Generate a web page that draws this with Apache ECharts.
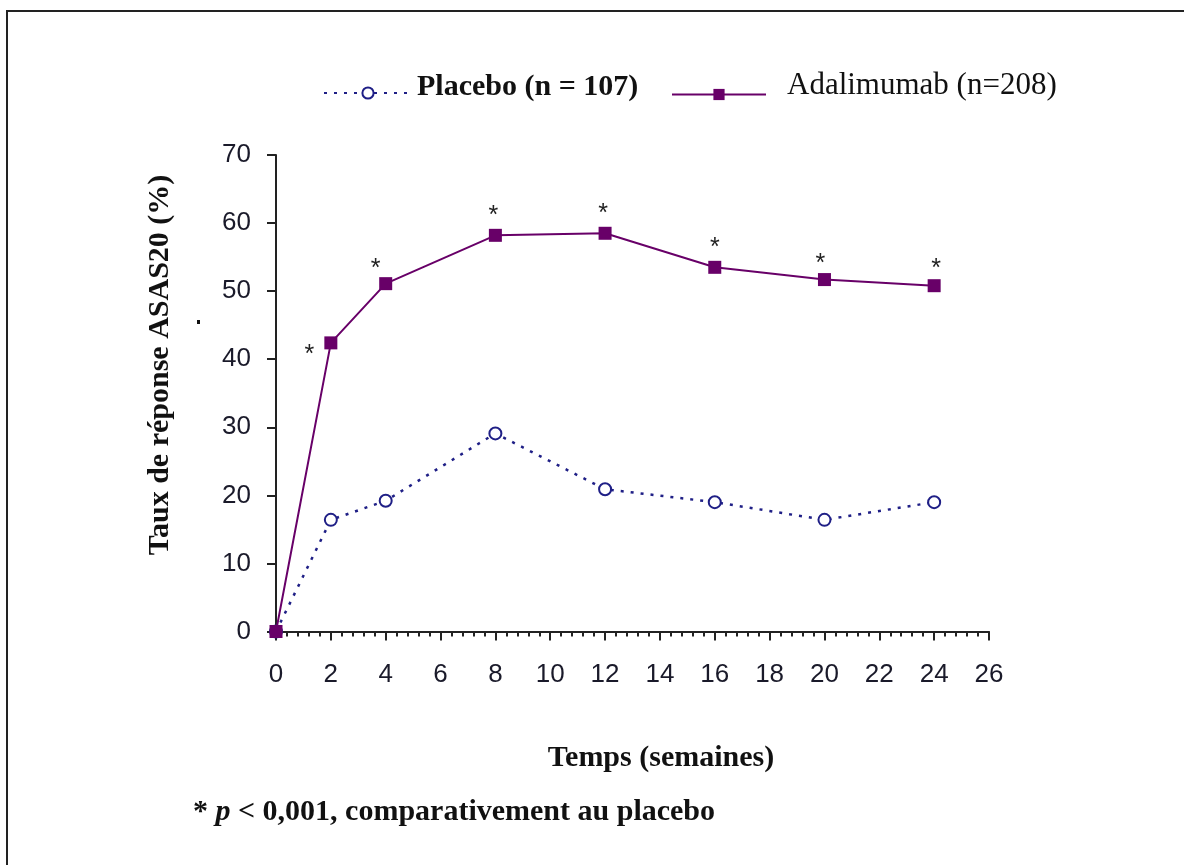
<!DOCTYPE html>
<html>
<head>
<meta charset="utf-8">
<script src="https://cdn.jsdelivr.net/npm/echarts@6/dist/echarts.min.js"></script>
<style>
  html, body { margin: 0; padding: 0; background: #fff; }
  #frame { position: absolute; left: 6px; top: 10px; width: 1300px; height: 1000px;
           border-top: 2px solid #222; border-left: 2px solid #222; }
  #chart { position: absolute; left: 0; top: 0; width: 1184px; height: 865px; }
</style>
</head>
<body>
<div id="frame"></div>
<div id="chart"></div>
<script>
// ---- data ----
const weeks = [0, 2, 4, 8, 12, 16, 20, 24];
const placeboValues = [0, 16.4, 19.2, 29.1, 20.9, 19.0, 16.4, 19.0];
const adalimumabValues = [0, 42.4, 51.1, 58.2, 58.5, 53.5, 51.7, 50.8];
const significant = [false, true, true, true, true, true, true, true];
const placeboName = 'Placebo (n = 107)';
const adalimumabName = 'Adalimumab (n=208)';
const yAxisTitle = 'Taux de réponse ASAS20 (%)';
const xAxisTitle = 'Temps (semaines)';
const footnote = '* p < 0,001, comparativement au placebo';

// ---- style helpers ----
const starOffsets = [[0,0],[-4,12],[-10,4],[-2,0],[-2,0],[0,0],[-4,4],[2,2]];
const serif = '"Liberation Serif", "Times New Roman", serif';
const sans = '"Liberation Sans", Arial, sans-serif';

const adaData = weeks.map((w, i) => ({
  value: [w, adalimumabValues[i]],
  label: i === 1
    ? { position: 'left', distance: 6, offset: starOffsets[i] }
    : { position: 'top', distance: 0, offset: starOffsets[i] }
}));
const plaData = weeks.map((w, i) => [w, placeboValues[i]]);

const chart = echarts.init(document.getElementById('chart'), null, { renderer: 'canvas' });
chart.setOption({
  animation: false,
  grid: { left: 276, right: 195, top: 155, bottom: 233.5, containLabel: false },
  legend: [
    {
      left: 318, top: 67, itemWidth: 88, itemHeight: 14,
      data: [{ name: placeboName }],
      formatter: n => '{t|' + n + '}',
      textStyle: {
        rich: { t: { fontFamily: serif, fontSize: 30, color: '#111', fontWeight: 'bold',
                     padding: [0, 0, 12, 0] } }
      }
    },
    {
      left: 666, top: 65, itemWidth: 94, itemHeight: 14,
      data: [{ name: adalimumabName }],
      formatter: n => '{t|' + n + '}',
      textStyle: {
        rich: { t: { fontFamily: serif, fontSize: 31, color: '#111',
                     padding: [0, 0, 18, 16] } }
      }
    }
  ],
  xAxis: {
    type: 'value', min: 0, max: 26, interval: 2,
    axisLine: { show: true, lineStyle: { color: '#222', width: 2 } },
    axisTick: { show: true, length: 9, lineStyle: { color: '#222', width: 2 } },
    minorTick: { show: true, splitNumber: 5, length: 5, lineStyle: { color: '#222', width: 2 } },
    splitLine: { show: false },
    axisLabel: { fontFamily: sans, fontSize: 26, color: '#1a1a2a', margin: 30 }
  },
  yAxis: {
    type: 'value', min: 0, max: 70, interval: 10,
    axisLine: { show: true, lineStyle: { color: '#222', width: 2 } },
    axisTick: { show: true, length: 9, lineStyle: { color: '#222', width: 2 } },
    splitLine: { show: false },
    axisLabel: { fontFamily: sans, fontSize: 26, color: '#1a1a2a', margin: 25 }
  },
  series: [
    {
      name: placeboName, type: 'line', data: plaData,
      symbol: 'emptyCircle', symbolSize: 12,
      lineStyle: { color: '#1f1f86', width: 2.5, type: [3, 7] },
      itemStyle: { color: '#1f1f86', borderWidth: 2, borderColor: '#1f1f86' },
      z: 2
    },
    {
      name: adalimumabName, type: 'line', data: adaData,
      symbol: 'rect', symbolSize: 13,
      lineStyle: { color: '#680068', width: 2 },
      itemStyle: { color: '#680068' },
      label: {
        show: true, fontFamily: sans, fontSize: 25, color: '#222',
        formatter: p => significant[p.dataIndex] ? '*' : ''
      },
      z: 3
    }
  ],
  graphic: [
    {
      type: 'text', x: 160, y: 365, rotation: Math.PI / 2,
      style: { text: yAxisTitle, font: 'bold 30px ' + serif, fill: '#111',
               align: 'center', verticalAlign: 'middle' }
    },
    {
      type: 'text', x: 661, y: 758,
      style: { text: xAxisTitle, font: 'bold 30px ' + serif, fill: '#111',
               align: 'center', verticalAlign: 'middle' }
    },
    {
      type: 'text', x: 193, y: 812,
      style: {
        text: '{a|* }{i|p}{a|' + footnote.slice(3) + '}',
        verticalAlign: 'middle', align: 'left',
        rich: {
          a: { font: 'bold 30px ' + serif, fill: '#111' },
          i: { font: 'italic bold 30px ' + serif, fill: '#111' }
        }
      }
    },
    { type: 'rect', shape: { x: 197, y: 320, width: 3, height: 4 }, style: { fill: '#111' } }
  ]
});
</script>
</body>
</html>
